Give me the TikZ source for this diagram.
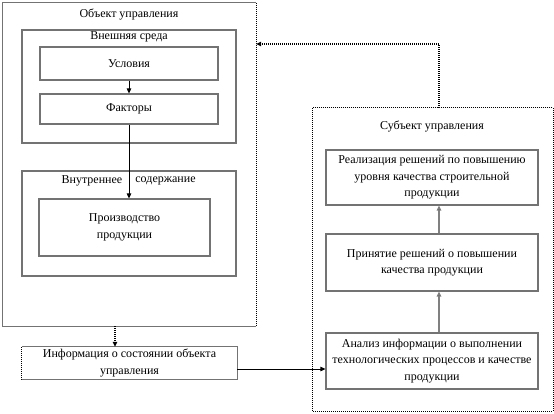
\documentclass[tikz,border=0pt]{standalone}
\usepackage{fontspec}
\setmainfont{Liberation Serif}
\usetikzlibrary{arrows.meta,positioning}
\tikzset{
  blk/.style={rectangle,draw=black!55,line width=1.1pt,inner sep=2pt,align=center,
    font=\fontsize{12}{16.5}\selectfont},
  frame/.style={rectangle,inner sep=0pt},
  ttl/.style={font=\fontsize{12}{16.5}\selectfont,inner sep=1pt},
  dots/.style={dash pattern=on 1pt off 1pt,line width=1.2pt},
  arr/.style={-{Triangle[length=5pt,width=4.5pt]},line width=.8pt},
  garr/.style={-{Triangle[length=5pt,width=4.5pt,fill=black]},draw=black!50,line width=1.6pt},
}
\begin{document}
\begin{tikzpicture}[x=1pt,y=-1pt]
  \useasboundingbox (0,0) rectangle (554,413);
  % object of management
  \node[frame,minimum width=253pt,minimum height=323pt] (obj) at (129.5,164.5) {};
  \draw[draw=black!55,line width=1.1pt] (obj.north east) -- (obj.north west) -- (obj.south west) -- (obj.south east);
  \draw[dots] (obj.north east) -- (obj.south east);
  \node[ttl] (objt) at (129,14) {Объект управления};
  % external environment
  \node[blk,minimum width=214pt,minimum height=113pt] (env) at (129,86.5) {};
  \node[ttl] (envt) at (129,37) {Внешняя среда};
  \node[blk,minimum width=178pt,minimum height=33pt] (cond) at (129,63.5) {Условия};
  \node[blk,minimum width=178pt,minimum height=30pt] (fact) at (129,109) {Факторы};
  % internal content
  \node[blk,minimum width=214pt,minimum height=105pt] (inner) at (129,223.5) {};
  \node[ttl] (innt1) at (92,181) {Внутреннее};
  \node[ttl] (innt2) at (165.5,181) {содержание};
  \node[blk,minimum width=171pt,minimum height=57pt] (prod) at (124.5,227.5) {Производство\\продукции};
  % information
  \node[frame,minimum width=215pt,minimum height=32pt,align=center,
    font=\fontsize{12}{16.5}\selectfont] (info) at (129.5,363) {Информация о состоянии объекта\\управления};
  \draw[draw=black!55,line width=1.1pt] (info.north west) -- (info.north east) -- (info.south east) -- (info.south west);
  \draw[dots] (info.north west) -- (info.south west);
  % subject of management
  \node[frame,minimum width=240pt,minimum height=303pt] (subj) at (433,259.5) {};
  \draw[dots] (subj.north west) rectangle (subj.south east);
  \node[ttl] (subjt) at (432,126) {Субъект управления};
  \node[blk,minimum width=212pt,minimum height=55pt] (real) at (432,177.5) {Реализация решений по повышению\\уровня качества строительной\\продукции};
  \node[blk,minimum width=212pt,minimum height=57pt] (dec) at (432,262.5) {Принятие решений о повышении\\качества продукции};
  \node[blk,minimum width=212pt,minimum height=56pt] (anal) at (432,361) {Анализ информации о выполнении\\технологических процессов и качестве\\продукции};
  % connectors
  \coordinate (lnk) at (0,369);
  \coordinate (fb) at (439,44);
  \coordinate (dn) at (115,0);
  \draw[arr] (cond.south) -- (fact.north);
  \draw[arr] (fact.south) -- (fact.south |- prod.north);
  \draw[arr,dots] (obj.south -| dn) -- (info.north -| dn);
  \draw[arr] (info.east |- lnk) -- (anal.west |- lnk);
  \draw[garr] (anal.north -| fb) -- (dec.south -| fb);
  \draw[garr] (dec.north -| fb) -- (real.south -| fb);
  \draw[arr,dots] (subj.north -| fb) -- (fb) -- (obj.east |- fb);
\end{tikzpicture}
\end{document}
